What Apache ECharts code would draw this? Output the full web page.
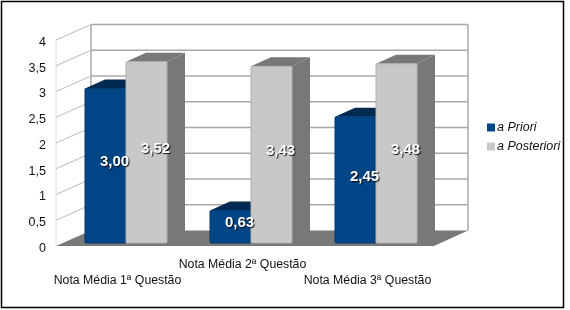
<!DOCTYPE html>
<html><head><meta charset="utf-8">
<style>html,body{margin:0;padding:0;background:#fff}#c{width:570px;height:310px}</style>
<script src="https://cdn.jsdelivr.net/npm/echarts@6/dist/echarts.min.js"></script>
</head><body><div id="c"></div>
<script>
const categories = ['Nota Média 1ª Questão', 'Nota Média 2ª Questão', 'Nota Média 3ª Questão'];
const priori = [3.00, 0.63, 2.45];
const posteriori = [3.52, 3.43, 3.48];
const yTicks = [0, 0.5, 1, 1.5, 2, 2.5, 3, 3.5, 4];
const seriesNames = ['a Priori', 'a Posteriori'];

const FONT = '"Liberation Sans", Arial, sans-serif';
const WALL_DX = 35, WALL_DY = 15.5;
const BAR_DX = 20, BAR_DY = 9, SHIFT_X = 8.5, SHIFT_Y = 3, BAR_RATIO = 0.328;
const fmt = (v, d) => v.toFixed(d).replace('.', ',');

function wallItem(params, api) {
  const cs = params.coordSys;
  const v = api.value(0);
  const y = api.coord([0, v])[1];
  const xl = cs.x + 1, xr = cs.x + cs.width + 4;
  const line = { stroke: '#a8a8a8', lineWidth: 1.5, fill: null };
  const kids = [];
  if (v === 0) {
    kids.push({ type: 'polygon', shape: { points: [[xl, y], [xr, y], [xr + WALL_DX - 1, y - WALL_DY], [xl + WALL_DX, y - WALL_DY]] }, style: { fill: '#787878' } });
    const top = api.coord([0, yTicks[yTicks.length - 1]])[1];
    kids.push({ type: 'line', shape: { x1: xl + WALL_DX, y1: y - WALL_DY, x2: xl + WALL_DX, y2: top - WALL_DY }, style: line });
    kids.push({ type: 'line', shape: { x1: xr + WALL_DX - 1, y1: y - WALL_DY, x2: xr + WALL_DX - 1, y2: top - WALL_DY }, style: line });
    kids.push({ type: 'line', shape: { x1: xl, y1: y, x2: xl, y2: top }, style: { stroke: '#dcdcdc', lineWidth: 1 } });
  } else {
    kids.push({ type: 'line', shape: { x1: xl + WALL_DX, y1: y - WALL_DY, x2: xr + WALL_DX - 1, y2: y - WALL_DY }, style: line });
    kids.push({ type: 'line', shape: { x1: xl, y1: y, x2: xl + WALL_DX, y2: y - WALL_DY }, style: { stroke: '#c4c4c4', lineWidth: 1.2 } });
  }
  return { type: 'group', children: kids };
}

function barRenderer(front, top, side, edge, offset) {
  return function (params, api) {
    const cat = api.value(0), val = api.value(1);
    const p = api.coord([cat, val]), b = api.coord([cat, 0]);
    const w = api.size([1, 0])[0] * BAR_RATIO;
    const x0 = p[0] + SHIFT_X + offset * w, x1 = x0 + w;
    const yt = p[1] - SHIFT_Y, yb = b[1] - SHIFT_Y;
    return { type: 'group', children: [
      { type: 'polygon', shape: { points: [[x1, yt], [x1 + BAR_DX - 2, yt - BAR_DY], [x1 + BAR_DX - 2, yb - BAR_DY], [x1, yb]] }, style: { fill: side } },
      { type: 'polygon', shape: { points: [[x0, yt], [x1, yt], [x1 + BAR_DX - 2, yt - BAR_DY], [x0 + BAR_DX, yt - BAR_DY]] }, style: { fill: top } },
      { type: 'rect', shape: { x: x0, y: yt, width: w, height: yb - yt, r: 1 }, style: { fill: front, stroke: edge, lineWidth: 1 } }
    ] };
  };
}

function labelRenderer(offset) {
  return function (params, api) {
    const cat = api.value(0), val = api.value(1);
    const p = api.coord([cat, val]), b = api.coord([cat, 0]);
    const w = api.size([1, 0])[0] * BAR_RATIO;
    const cx = p[0] + SHIFT_X + offset * w + w / 2 + 9;
    const cy = (p[1] + b[1]) / 2 - SHIFT_Y - 3.5;
    return { type: 'text', style: { x: cx, y: cy, text: fmt(val, 2), fill: '#fff', font: 'bold 15px ' + FONT, align: 'center', verticalAlign: 'middle', textShadowColor: 'rgba(0,0,0,0.9)', textShadowBlur: 1, textShadowOffsetX: 1, textShadowOffsetY: 1 } };
  };
}

const chart = echarts.init(document.getElementById('c'), null, { renderer: 'canvas' });
chart.setOption({
  animation: false,
  backgroundColor: '#fff',
  graphic: [{ type: 'rect', z: 0, shape: { x: 1.5, y: 1.5, width: 562, height: 306 }, style: { fill: '#fff', stroke: '#000', lineWidth: 1.5 } }],
  grid: { left: 55, top: 40, width: 375, height: 206 },
  legend: {
    left: 482, top: 116, orient: 'vertical', itemWidth: 8, itemHeight: 8, itemGap: 6,
    data: seriesNames.map((n, i) => ({ name: n, icon: 'rect', itemStyle: { color: i ? '#c8c8c8' : '#004586' } })),
    textStyle: { fontFamily: FONT, fontSize: 12.5, fontStyle: 'italic', color: '#111', padding: [0, 0, 0, -3] }
  },
  xAxis: {
    type: 'category', data: categories,
    axisLine: { show: false }, axisTick: { show: false },
    axisLabel: {
      interval: 0, margin: 11, fontFamily: FONT, fontSize: 12.3, color: '#111', lineHeight: 16, verticalAlign: 'top',
      formatter: (v, i) => i % 2 ? v + '\n ' : ' \n' + v
    }
  },
  yAxis: {
    type: 'value', min: 0, max: 4, interval: 0.5,
    axisLine: { show: false }, axisTick: { show: false }, splitLine: { show: false },
    axisLabel: { margin: 9, verticalAlign: 'top', lineHeight: 5, fontFamily: FONT, fontSize: 12.5, color: '#111', formatter: v => fmt(v, v % 1 ? 1 : 0) }
  },
  series: [
    { type: 'custom', silent: true, z: 1, clip: false, renderItem: wallItem, data: yTicks.map(v => [v]), encode: { y: 0 } },
    { type: 'custom', name: seriesNames[0], z: 2, clip: false, renderItem: barRenderer('#004586', '#002a52', '#002a52', '#003a70', -1), data: priori.map((v, i) => [i, v]), encode: { x: 0, y: 1 } },
    { type: 'custom', name: seriesNames[1], z: 3, clip: false, renderItem: barRenderer('#c8c8c8', '#787878', '#787878', '#b0b0b0', 0), data: posteriori.map((v, i) => [i, v]), encode: { x: 0, y: 1 } },
    { type: 'custom', silent: true, z: 4, clip: false, renderItem: labelRenderer(-1), data: priori.map((v, i) => [i, v]), encode: { x: 0, y: 1 } },
    { type: 'custom', silent: true, z: 4, clip: false, renderItem: labelRenderer(0), data: posteriori.map((v, i) => [i, v]), encode: { x: 0, y: 1 } }
  ]
});
</script></body></html>
